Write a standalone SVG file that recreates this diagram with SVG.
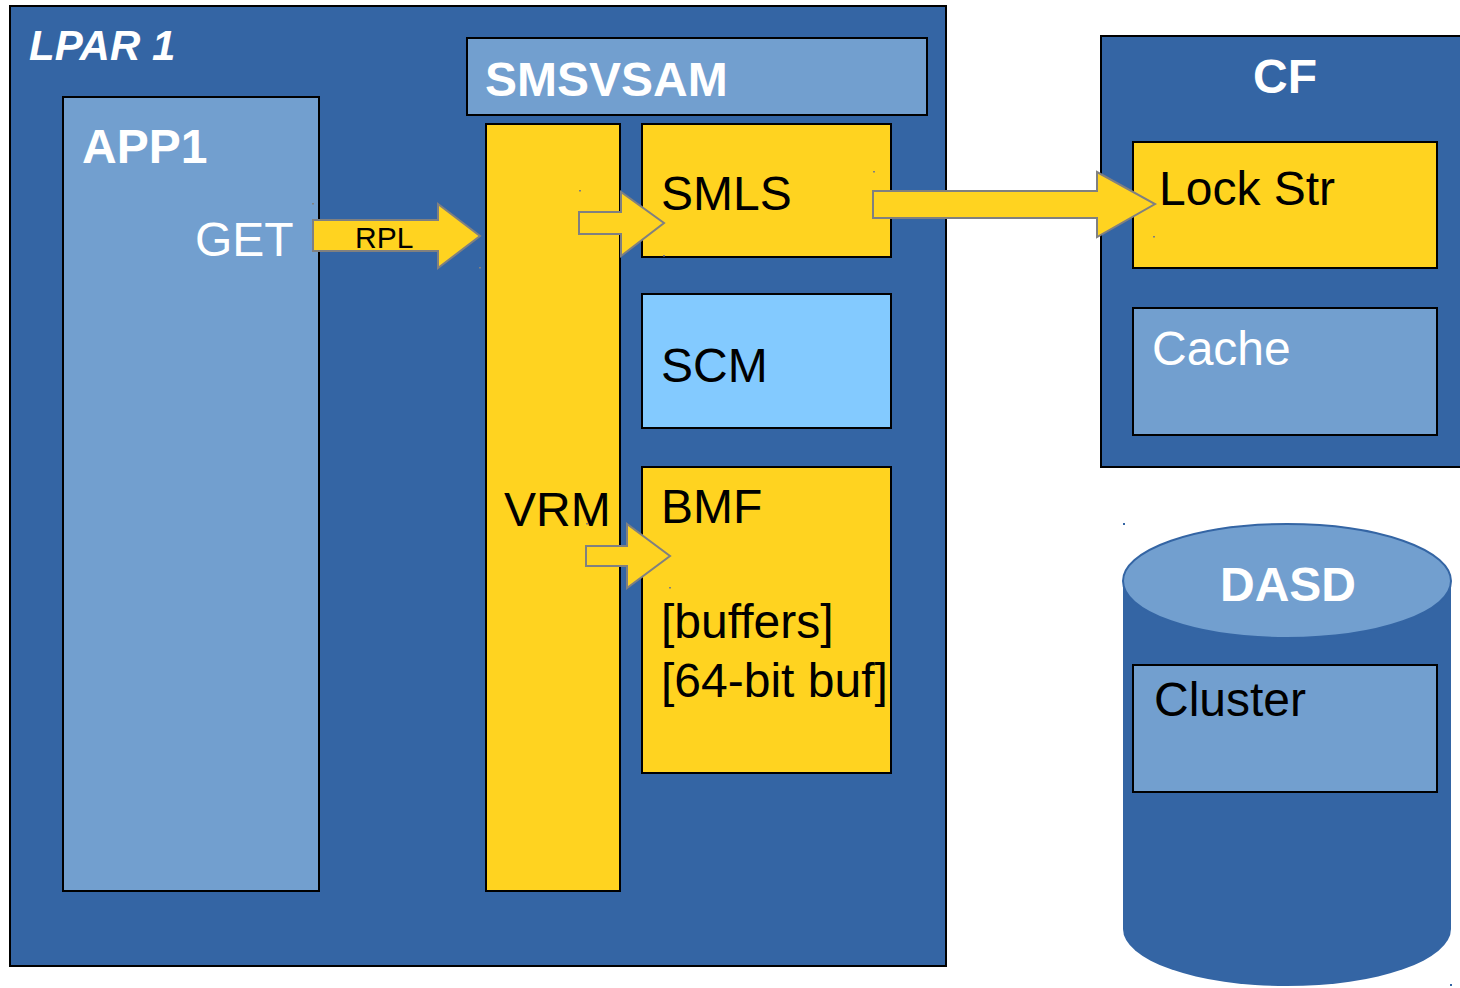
<svg xmlns="http://www.w3.org/2000/svg" width="1460" height="988" viewBox="0 0 1460 988">
<style>
.dark{fill:#3465a4;stroke:#000;stroke-width:2}
.light{fill:#729fcf;stroke:#000;stroke-width:2}
.yel{fill:#ffd320;stroke:#000;stroke-width:2}
.sky{fill:#83caff;stroke:#000;stroke-width:2}
.arr{fill:#ffd320;stroke:#808080;stroke-width:2;stroke-linejoin:miter}
text{font-family:"Liberation Sans",Arial,sans-serif;font-size:48px}
.w{fill:#fff}
.b{fill:#000}
.bold{font-weight:bold}
.dot{fill:#808080}
</style>
<rect width="1460" height="988" fill="#fff"/>
<g id="lpar1">
<rect class="dark" x="10" y="6" width="936" height="960"/>
<text class="w bold" x="29" y="60" font-style="italic" style="font-size:42px">LPAR 1</text>
</g>
<g id="app1">
<rect class="light" x="63" y="97" width="256" height="794"/>
<text class="w bold" x="82" y="163">APP1</text>
<text class="w" x="195" y="256">GET</text>
</g>
<g id="smsvsam">
<rect class="light" x="467" y="38" width="460" height="77"/>
<text class="w bold" x="485" y="96">SMSVSAM</text>
</g>
<g id="vrm">
<rect class="yel" x="486" y="124" width="134" height="767"/>
<text class="b" x="504" y="526">VRM</text>
</g>
<g id="smls">
<rect class="yel" x="642" y="124" width="249" height="133"/>
<text class="b" x="661" y="210">SMLS</text>
</g>
<g id="scm">
<rect class="sky" x="642" y="294" width="249" height="134"/>
<text class="b" x="661" y="382">SCM</text>
</g>
<g id="bmf">
<rect class="yel" x="642" y="467" width="249" height="306"/>
<text class="b" x="661" y="523">BMF</text>
<text class="b" x="661" y="638">[buffers]</text>
<text class="b" x="661" y="697">[64-bit buf]</text>
</g>
<g id="cf">
<rect class="dark" x="1101" y="36" width="370" height="431"/>
<text class="w bold" x="1285" y="93" text-anchor="middle">CF</text>
</g>
<g id="lockstr">
<rect class="yel" x="1133" y="142" width="304" height="126"/>
<text class="b" x="1159" y="205">Lock Str</text>
</g>
<g id="cache">
<rect class="light" x="1133" y="308" width="304" height="127"/>
<text class="w" x="1152" y="365">Cache</text>
</g>
<g id="dasd">
<path d="M1123,581 L1123,929 A164,57 0 0 0 1451,929 L1451,581 Z" fill="#3465a4"/>
<ellipse cx="1287" cy="581" rx="164" ry="57" fill="#729fcf" stroke="#3465a4" stroke-width="2"/>
<text class="w bold" x="1288" y="601" text-anchor="middle">DASD</text>
</g>
<g id="cluster">
<rect class="light" x="1133" y="665" width="304" height="127"/>
<text class="b" x="1154" y="716">Cluster</text>
</g>
<g id="connectors">
<path class="arr" d="M313,220 L438,220 L438,204 L480,236 L438,268 L438,251 L313,251 Z"/>
<text class="b" x="355" y="248" style="font-size:30px">RPL</text>
<path class="arr" d="M579,212 L621,212 L621,192 L664,223 L621,256 L621,234 L579,234 Z"/>
<path class="arr" d="M873,191 L1097,191 L1097,172 L1155,204 L1097,237 L1097,218 L873,218 Z"/>
<path class="arr" d="M586,546 L627,546 L627,524 L670,556 L627,588 L627,566 L586,566 Z"/>
</g>
<g id="marks">
<rect class="dot" x="312" y="203" width="2" height="1.5"/>
<rect class="dot" x="479" y="267" width="2" height="1.5"/>
<rect class="dot" x="579" y="190" width="2" height="1.5"/>
<rect class="dot" x="663" y="255" width="2" height="1.5"/>
<rect class="dot" x="873" y="171" width="2" height="1.5"/>
<rect class="dot" x="1153" y="236" width="2" height="1.5"/>
<rect class="dot" x="669" y="587" width="2" height="1.5"/>
<rect class="dot" x="586" y="523" width="2" height="1.5"/>
<rect x="1123" y="523" width="2" height="2" fill="#3465a4"/>
<rect x="1450" y="984" width="2" height="2" fill="#3465a4"/>
</g>
</svg>
